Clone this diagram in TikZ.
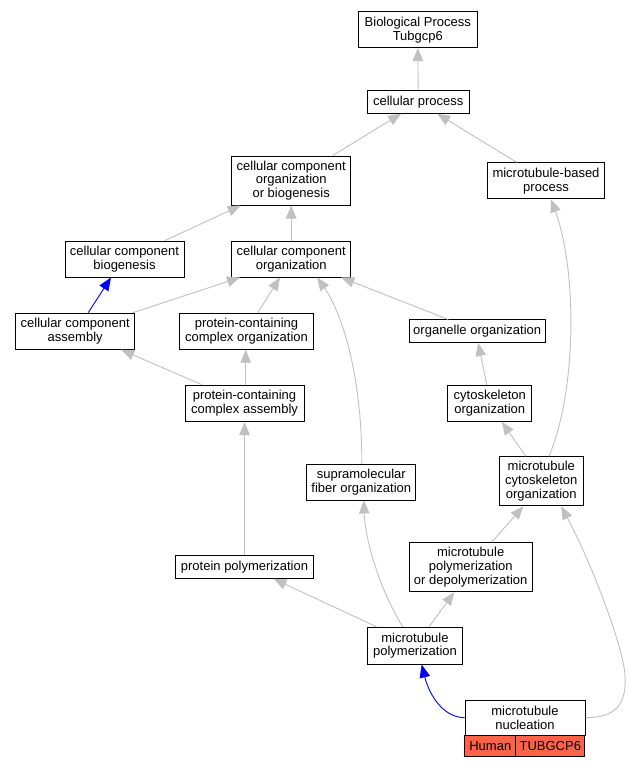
\documentclass[tikz,border=0pt]{standalone}
\usepackage{fontspec}
\setmainfont{Liberation Sans}
\usetikzlibrary{arrows.meta}
\definecolor{edgegray}{RGB}{192,192,192}
\definecolor{edgeblue}{RGB}{0,0,255}
\definecolor{tomato}{RGB}{255,99,71}
\begin{document}
\begin{tikzpicture}[x=1pt,y=-1pt,
  box/.style={draw=black,line width=1pt,fill=white,inner sep=0pt,align=center,
    font=\fontsize{13}{13.7}\selectfont},
  cell/.style={box,fill=tomato},
  isa/.style={draw=edgegray,line width=0.9pt,-{Triangle[length=13pt,width=10.5pt]}},
  bluea/.style={draw=edgeblue,line width=0.9pt,-{Triangle[length=13pt,width=10.5pt]}}]
\useasboundingbox (0,0) rectangle (630,768);
% nodes
\node[box,minimum width=119pt,minimum height=35.7pt] (bp) at (417.8,29.8) {Biological Process\\Tubgcp6};
\node[box,minimum width=101.7pt,minimum height=23pt] (cp) at (418.2,101.7) {cellular process};
\node[box,minimum width=119pt,minimum height=49pt] (ccoob) at (291.2,180.5) {cellular component\\organization\\or biogenesis};
\node[box,minimum width=117pt,minimum height=36pt] (mtbp) at (546,180.8) {microtubule-based\\process};
\node[box,minimum width=119pt,minimum height=36pt] (ccb) at (124.5,259) {cellular component\\biogenesis};
\node[box,minimum width=119pt,minimum height=36pt] (cco) at (291.2,259) {cellular component\\organization};
\node[box,minimum width=119pt,minimum height=36pt] (cca) at (75.2,331.2) {cellular component\\assembly};
\node[box,minimum width=133.6pt,minimum height=36pt] (pcco) at (246.5,331.2) {protein-containing\\complex organization};
\node[box,minimum width=136.3pt,minimum height=22.5pt] (oo) at (477.2,331.2) {organelle organization};
\node[box,minimum width=119pt,minimum height=36.5pt] (pcca) at (244.5,403.3) {protein-containing\\complex assembly};
\node[box,minimum width=84.3pt,minimum height=36pt] (cso) at (489.8,403.3) {cytoskeleton\\organization};
\node[box,minimum width=109.3pt,minimum height=36pt] (sfo) at (361.3,482) {supramolecular\\fiber organization};
\node[box,minimum width=84pt,minimum height=49.3pt] (mcsko) at (541.3,481.3) {microtubule\\cytoskeleton\\organization};
\node[box,minimum width=137.6pt,minimum height=22.6pt] (pp) at (244.5,567) {protein polymerization};
\node[box,minimum width=122.7pt,minimum height=49pt] (mpod) at (470.7,567.2) {microtubule\\polymerization\\or depolymerization};
\node[box,minimum width=95.3pt,minimum height=36.7pt] (mp) at (415,645.7) {microtubule\\polymerization};
\node[box,minimum width=120pt,minimum height=35.3pt] (mn) at (525,717.7) {microtubule\\nucleation};
\node[cell,minimum width=50.7pt,minimum height=21.4pt] (human) at (490.3,746) {Human};
\node[cell,minimum width=69.3pt,minimum height=21.4pt] (gene) at (550.3,746) {TUBGCP6};
% edges
\draw[isa] (cp.north) -- (bp.south);
\draw[isa] ([xshift=41.5pt]ccoob.north) -- ([xshift=-17pt]cp.south);
\draw[isa] ([xshift=-29.3pt]mtbp.north) -- ([xshift=19pt]cp.south);
\draw[isa] ([xshift=40.5pt]ccb.north) -- ([xshift=-50.5pt]ccoob.south);
\draw[isa] (cco.north) -- (ccoob.south);
\draw[isa] ([xshift=57.5pt]cca.north) -- ([xshift=-51.2pt]cco.south);
\draw[bluea] ([xshift=13pt]cca.north) -- ([xshift=-13.5pt]ccb.south);
\draw[isa] ([xshift=11.2pt]pcco.north) -- ([xshift=-11.2pt]cco.south);
\draw[isa] ([xshift=0.5pt]sfo.north) .. controls (362,370) and (340,310) .. ([xshift=26pt]cco.south);
\draw[isa] ([xshift=-29pt]oo.north) -- ([xshift=50pt]cco.south);
\draw[isa] ([xshift=-43pt]pcca.north) -- ([xshift=46pt]cca.south);
\draw[isa] ([xshift=1.2pt]pcca.north) -- ([xshift=-0.8pt]pcco.south);
\draw[isa] ([xshift=-3pt]cso.north) -- ([xshift=1pt]oo.south);
\draw[isa] ([xshift=-15.5pt]mcsko.north) -- ([xshift=12pt]cso.south);
\draw[isa] ([xshift=7.7pt]mcsko.north) .. controls (577,390) and (577,270) .. ([xshift=5pt]mtbp.south);
\draw[isa] (pp.north) -- (pcca.south);
\draw[isa] ([xshift=-38.3pt]mp.north) -- ([xshift=29pt]pp.south);
\draw[isa] ([xshift=-12.3pt]mp.north) .. controls (380,590) and (365,540) .. ([xshift=2.5pt]sfo.south);
\draw[isa] ([xshift=14pt]mp.north) -- ([xshift=-16.4pt]mpod.south);
\draw[isa] ([xshift=21pt]mpod.north) -- ([xshift=-18pt]mcsko.south);
\draw[bluea] (mn.west) .. controls (440,717) and (428,690) .. ([xshift=6.7pt]mp.south);
\draw[isa] (mn.east) .. controls (615,717.7) and (627,705) .. (625,675) .. controls (623,645) and (590,560) .. ([xshift=20pt]mcsko.south);
\end{tikzpicture}
\end{document}
